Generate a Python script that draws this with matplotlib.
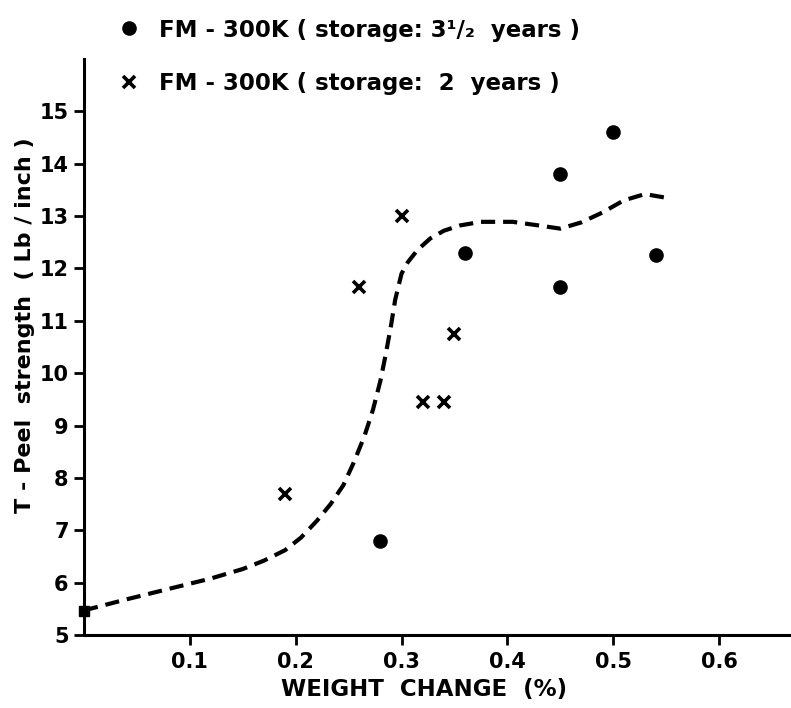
import matplotlib
matplotlib.use("Agg")
import matplotlib.pyplot as plt
from matplotlib.lines import Line2D

# FM-300K, 3 1/2 years storage (dots)
x_35 = [0.28, 0.36, 0.45, 0.45, 0.50, 0.54]
y_35 = [6.8, 12.3, 13.8, 11.65, 14.6, 12.25]

# FM-300K, 2 years storage (crosses)
x_2 = [0.19, 0.26, 0.30, 0.32, 0.34, 0.35]
y_2 = [7.7, 11.65, 13.0, 9.45, 9.45, 10.75]

# control point at the origin
x_0 = [0.0]
y_0 = [5.45]

# hand-drawn trend curve
curve_x = [0.0, 0.04, 0.08, 0.12, 0.15, 0.17, 0.19, 0.205, 0.22, 0.233, 0.245,
           0.255, 0.265, 0.273, 0.28, 0.285, 0.29, 0.294, 0.30, 0.306, 0.315,
           0.327, 0.34, 0.355, 0.375, 0.405, 0.43, 0.45, 0.47, 0.49, 0.51,
           0.53, 0.55]
curve_y = [5.47, 5.68, 5.88, 6.08, 6.26, 6.42, 6.62, 6.86, 7.18, 7.5, 7.86,
           8.3, 8.8, 9.3, 9.85, 10.35, 10.9, 11.4, 11.9, 12.12, 12.35,
           12.57, 12.72, 12.82, 12.89, 12.89, 12.82, 12.76, 12.88, 13.07, 13.3,
           13.42, 13.35]

x_ticks = [0.1, 0.2, 0.3, 0.4, 0.5, 0.6]
y_ticks = list(range(5, 16))

plt.rcParams['font.family'] = ['DejaVu Sans']
plt.rcParams['font.weight'] = 'bold'

fig = plt.figure(figsize=(7.91, 7.08), dpi=100)
ax = fig.add_axes([0.1062, 0.1031, 0.8938, 0.8136])

ax.plot(curve_x, curve_y, color='black', lw=3, dashes=(3.4, 1.9), zorder=2)
ax.plot(x_35, y_35, 'o', color='black', ms=9.5, zorder=3)
ax.plot(x_2, y_2, 'x', color='black', ms=8, mew=2.6, zorder=3)
ax.plot(x_0, y_0, 's', color='black', ms=7, clip_on=False, zorder=3)

ax.set_xlim(0, 0.668)
ax.set_ylim(5, 16)
ax.set_xticks(x_ticks)
ax.set_xticklabels([f'{v:.1f}' for v in x_ticks])
ax.set_yticks(y_ticks)

for side in ['top', 'right']:
    ax.spines[side].set_visible(False)
for side in ['left', 'bottom']:
    ax.spines[side].set_linewidth(2.2)
ax.tick_params(direction='out', length=7, width=2, labelsize=15, pad=4)
ax.tick_params(axis='x', pad=5)

ax.set_xlabel('WEIGHT  CHANGE  (%)', fontsize=16.5, fontweight='bold')
ax.xaxis.set_label_coords(0.481, -0.075)
ax.set_ylabel('T - Peel  strength  ( Lb / inch )', fontsize=16, fontweight='bold')
ax.yaxis.set_label_coords(-0.07, 0.538)

handles = [
    Line2D([], [], ls='none', marker='o', color='black', ms=9.5),
    Line2D([], [], ls='none', marker='x', color='black', ms=8, mew=2.6),
]
labels = ['FM - 300K ( storage: 3¹/₂  years )', 'FM - 300K ( storage:  2  years )']
fig.legend(handles, labels, loc='upper left', bbox_to_anchor=(0.126, 1.003),
           frameon=False, handlelength=0.8, handletextpad=0.9,
           labelspacing=1.35, prop={'weight': 'bold', 'size': 16.5})

fig.savefig('out.png', dpi=100)
